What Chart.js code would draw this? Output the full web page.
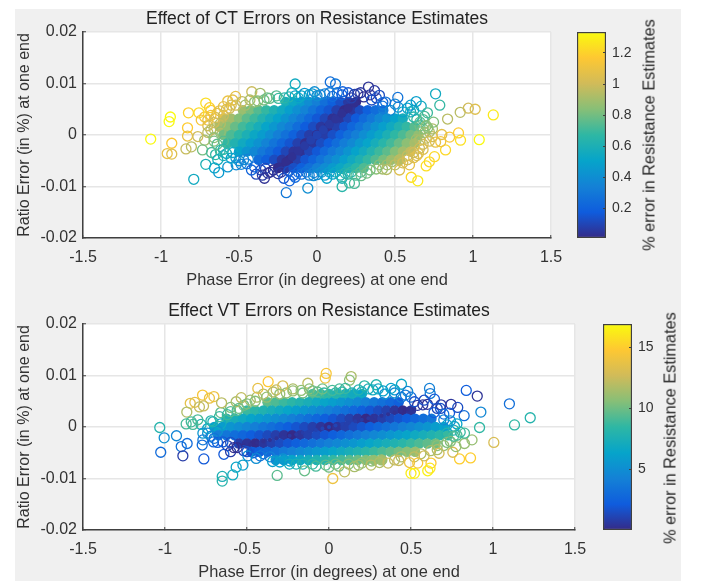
<!DOCTYPE html>
<html>
<head>
<meta charset="utf-8">
<script src="https://cdn.jsdelivr.net/npm/chart.js@4/dist/chart.umd.min.js"></script>
<style>
    html, body { margin: 0; padding: 0; background: #fff; }
    #page { position: relative; width: 702px; height: 581px; overflow: hidden; }
    #panel { position: absolute; left: 15px; top: 9px; width: 666px; height: 572px; background: #f0f0f0; }
    canvas { position: absolute; }
    .cbLabel {
        position: absolute; white-space: nowrap; color: #262626;
        font: 16.3px "Liberation Sans", Arial, sans-serif;
        transform: translate(-50%, -50%) rotate(-90deg);
    }
</style>
</head>
<body>
<div id="page">
    <div id="panel"></div>
    <canvas id="ctChart" width="604" height="283" style="left:15px;top:9px"></canvas>
    <canvas id="ctBar" width="70" height="226" style="left:577px;top:22px"></canvas>
    <canvas id="vtChart" width="628" height="283" style="left:15px;top:301px"></canvas>
    <canvas id="vtBar" width="70" height="226" style="left:603px;top:314px"></canvas>
    <div class="cbLabel" style="left:649px;top:135px">% error in Resistance Estimates</div>
    <div class="cbLabel" style="left:670px;top:428px">% error in Resistance Estimates</div>
</div>
<script>
const xTicks = [-1.5, -1, -0.5, 0, 0.5, 1, 1.5];
const yTicks = [-0.02, -0.01, 0, 0.01, 0.02];
const ctBarTicks = [0.2, 0.4, 0.6, 0.8, 1, 1.2];
const vtBarTicks = [5, 10, 15];
const ctRange = [0.008, 1.335];
const vtRange = [0.02, 16.9];
const parula = ['#352a87', '#0f5cdd', '#1481d6', '#06a4ca', '#2eb7a4', '#87bf77', '#d1bb59', '#fec832', '#f9fb0e'];

// outer rings, CT panel
const ctRimX = [-1.066,-.94,-.948,-.931,-.96,-.931,-.84,-.805,-.824,-.83,
    -.83,-.764,-.757,-.713,-.689,-.742,-.70,-.625,-.572,-.522,
    -.54,-.418,-.364,-.304,-.247,-.14,-.14,-.08,-.016,.085,
    .119,.165,.24,.262,.33,.369,.40,.422,.518,.76,
    .787,.60,.636,.668,.708,.689,.747,.837,.918,.97,
    1.014,1.13,1.04,.907,.92,.85,.80,.824,.793,.753,
    .72,.70,.604,.646,.64,.593,.529,.446,.283,.24,
    .208,.161,.161,.063,-.022,-.059,.636,.657,.689,.71,
    -.734,-.676,-.713,-.79,-.636,-.657,-.63,-.572,-.518,-.486,
    -.39,-.337,-.35,-.315,-.213,-.176,-.14,-.197,-.6,-.55,
    -.48,-.43,-.38,-.32,-.18,-.12,-.05,0,.05,.1,
    .16,.22,.3,.35,.42,.47,.55,.6,.62,.66,
    .7,-.6,-.55,-.5,-.45,-.42,-.3,-.25,-.15,-.1,
    -.05,0,.05,.1,.15,.2,.25,.32,.38,.42,
    .5,.55,.58,.62,.68,.72,-.68,-.66,-.68,-.66,
    -.64,-.6];
const ctRimY = [-.0008,.0035,.0026,-.0016,-.0036,-.0037,-.0027,-.0023,.0043,.0014,
    -.0002,-.0003,.0043,.0062,.0053,.0029,.0029,.0047,.0066,.0075,
    .0068,.0084,.0081,.0071,.0071,.0099,.0076,.0081,.0084,.0103,
    .0099,.0084,.0079,.008,.0093,.0086,.0077,.0063,.0073,.008,
    .0058,.0058,.0065,.0056,.0043,.0036,.0025,.0031,.0044,.0052,
    .005,.0039,-.0009,.0004,-.001,-.0004,.0001,-.0029,-.0013,-.0042,
    -.0052,-.006,-.0082,-.0089,-.004,-.0058,-.0068,-.0067,-.0079,-.0094,
    -.0093,-.01,-.0084,-.0084,-.0079,-.0103,-.0009,-.0026,.0005,.0014,
    -.0029,-.0034,-.0057,-.0086,-.0048,-.0064,-.0073,-.0062,-.0058,-.0057,
    -.0076,-.0084,-.0078,-.0074,-.0084,-.0089,-.0082,-.0112,.0055,.0058,
    .0065,.0068,.0066,.0072,.0074,.0072,.0078,.0076,.008,.0075,
    .0078,.0072,.0074,.0068,.0056,.0048,.0045,.0045,.0035,.0025,
    .0018,-.004,-.0045,-.005,-.0056,-.0068,-.0072,-.0075,-.0078,-.0076,
    -.0078,-.0077,-.0078,-.0076,-.0078,-.0076,-.0078,-.0074,-.0066,-.0066,
    -.0058,-.0054,-.0048,-.0034,-.0028,-.0012,.0038,.0024,.001,-.0005,
    -.0018,-.0028];
const ctRimV = [1.33,1.33,1.33,1.16,1.09,1.05,.98,.95,1.2,1.18,
    1.09,1,1.23,1.24,1.19,1.14,1.08,1.07,1.1,1.08,
    1.07,.99,.9,.77,.69,.55,.5,.45,.4,.25,
    .3,.2,.08,.06,.04,.05,.12,.22,.28,.55,
    .68,.45,.48,.55,.7,.72,.82,.95,.95,1,
    1.05,1.28,1.33,1.18,1.25,1.15,1.07,1.22,1.12,1.22,
    1.22,1.24,1.22,1.28,1.05,1.08,1.05,.94,.78,.72,
    .72,.65,.6,.5,.38,.4,.9,1,.88,.85,
    .8,.72,.6,.55,.58,.52,.46,.44,.38,.35,
    .1,.03,.06,.05,.14,.2,.23,.3,1.08,1.03,
    .97,.92,.84,.79,.62,.53,.47,.39,.34,.25,
    .19,.08,.02,.12,.27,.38,.5,.57,.65,.75,
    .84,.59,.5,.41,.31,.21,.03,.05,.2,.26,
    .33,.39,.47,.52,.6,.66,.73,.8,.84,.9,
    .96,1.01,1.02,1,1.05,1.02,1.1,1,.95,.85,
    .76,.65];

// rings crowding the edge of the CT cloud
const ctEdgeX = [-.72,-.68,-.65,-.7,-.64,-.6,-.58,-.62,-.66,-.7,
    -.62,-.72,-.66,-.6,-.62,-.65,-.58,-.54,-.52,-.47,
    -.44,-.4,-.36,-.33,-.28,-.23,-.18,-.12,-.07,-.02,
    .03,.08,.12,.18,.22,.28,.34,.4,.45,.48,
    .53,.58,.62,.65,.68,.66,.7,.74,.76,.72,
    .74,.68,.66,.68,.64,.62,.58,.52,.5,.44,
    .38,.34,.28,.2,.13,.08,.02,-.03,-.1,-.16,
    -.21,-.26,-.34,-.4,-.46,-.52,-.56];
const ctEdgeY = [.0035,.0048,.0034,.0018,.0042,.0038,.005,.0022,.0012,.0005,
    .0006,-.001,-.0012,-.0012,-.003,-.0038,-.0036,-.0034,-.0044,-.0048,
    -.0047,-.0062,-.0068,-.0065,-.0068,-.0072,-.007,-.0072,-.0072,-.0073,
    -.0072,-.0072,-.0072,-.0074,-.0072,-.0072,-.0068,-.0058,-.0058,-.0052,
    -.0048,-.004,-.0044,-.0036,-.0018,-.001,-.0006,-.0003,-.0014,.0006,
    .0012,.0012,.0018,.003,.003,.0048,.0052,.0054,.006,.0064,
    .0072,.0078,.0082,.0082,.0082,.0082,.0078,.008,.0076,.0082,
    .0072,.0076,.0068,.0064,.0058,.0058,.0052];
const ctEdgeV = [1.14,1.15,1.04,1.02,1.07,.99,1.03,.94,.94,.96,
    .86,.9,.82,.74,.67,.67,.59,.54,.47,.38,
    .34,.21,.13,.11,.02,.06,.12,.21,.28,.35,
    .41,.47,.53,.62,.66,.74,.8,.83,.9,.9,
    .95,.98,1.05,1.05,1,.93,.96,1,1.08,.93,
    .92,.84,.79,.75,.7,.58,.5,.41,.36,.26,
    .14,.05,.05,.15,.25,.31,.37,.45,.52,.63,
    .65,.74,.8,.86,.91,.99,1.01];

// dense middle of the CT cloud, one line per row
const ctCoreX = [-.2,-.15,-.1,-.05,0,.05,.1,.15,.2,.25,
    -.475,-.425,-.375,-.325,-.275,-.225,-.175,-.125,-.075,-.025,.025,.075,.125,.175,.225,.275,.325,.375,.425,
    -.6,-.55,-.5,-.45,-.4,-.35,-.3,-.25,-.2,-.15,-.1,-.05,0,.05,.1,.15,.2,.25,.3,.35,.4,.45,.5,.55,
    -.625,-.575,-.525,-.475,-.425,-.375,-.325,-.275,-.225,-.175,-.125,-.075,-.025,.025,.075,.125,.175,.225,.275,.325,.375,.425,.475,.525,.575,.625,
    -.6,-.55,-.5,-.45,-.4,-.35,-.3,-.25,-.2,-.15,-.1,-.05,0,.05,.1,.15,.2,.25,.3,.35,.4,.45,.5,.55,.6,.65,
    -.575,-.525,-.475,-.425,-.375,-.325,-.275,-.225,-.175,-.125,-.075,-.025,.025,.075,.125,.175,.225,.275,.325,.375,.425,.475,.525,.575,.625,
    -.5,-.45,-.4,-.35,-.3,-.25,-.2,-.15,-.1,-.05,0,.05,.1,.15,.2,.25,.3,.35,.4,.45,.5,.55,.6,
    -.375,-.325,-.275,-.225,-.175,-.125,-.075,-.025,.025,.075,.125,.175,.225,.275,.325,.375,.425,.475,.525,
    -.25,-.2,-.15,-.1,-.05,0,.05,.1,.15,.2,.25,.3];
const ctCoreY = [.0064,.0064,.0064,.0064,.0064,.0064,.0064,.0064,.0064,.0064,
    .0048,.0048,.0048,.0048,.0048,.0048,.0048,.0048,.0048,.0048,.0048,.0048,.0048,.0048,.0048,.0048,.0048,.0048,.0048,
    .0032,.0032,.0032,.0032,.0032,.0032,.0032,.0032,.0032,.0032,.0032,.0032,.0032,.0032,.0032,.0032,.0032,.0032,.0032,.0032,.0032,.0032,.0032,.0032,
    .0016,.0016,.0016,.0016,.0016,.0016,.0016,.0016,.0016,.0016,.0016,.0016,.0016,.0016,.0016,.0016,.0016,.0016,.0016,.0016,.0016,.0016,.0016,.0016,.0016,.0016,
    0,0,0,0,0,0,0,0,0,0,0,0,0,0,0,0,0,0,0,0,0,0,0,0,0,0,
    -.0016,-.0016,-.0016,-.0016,-.0016,-.0016,-.0016,-.0016,-.0016,-.0016,-.0016,-.0016,-.0016,-.0016,-.0016,-.0016,-.0016,-.0016,-.0016,-.0016,-.0016,-.0016,-.0016,-.0016,-.0016,
    -.0032,-.0032,-.0032,-.0032,-.0032,-.0032,-.0032,-.0032,-.0032,-.0032,-.0032,-.0032,-.0032,-.0032,-.0032,-.0032,-.0032,-.0032,-.0032,-.0032,-.0032,-.0032,-.0032,
    -.0048,-.0048,-.0048,-.0048,-.0048,-.0048,-.0048,-.0048,-.0048,-.0048,-.0048,-.0048,-.0048,-.0048,-.0048,-.0048,-.0048,-.0048,-.0048,
    -.0064,-.0064,-.0064,-.0064,-.0064,-.0064,-.0064,-.0064,-.0064,-.0064,-.0064,-.0064];
const ctCoreV = [.59,.53,.46,.39,.33,.26,.19,.13,.06,.01,
    .88,.81,.74,.68,.61,.55,.48,.41,.35,.28,.21,.15,.08,.01,.05,.12,.19,.25,.32,
    .96,.9,.83,.76,.7,.63,.56,.5,.43,.36,.3,.23,.16,.1,.03,.04,.1,.17,.24,.3,.37,.43,.5,.57,
    .91,.85,.78,.71,.65,.58,.51,.45,.38,.32,.25,.18,.12,.05,.02,.08,.15,.22,.28,.35,.42,.48,.55,.62,.68,.75,
    .8,.73,.67,.6,.53,.47,.4,.33,.27,.2,.13,.07,.01,.07,.13,.2,.27,.33,.4,.47,.53,.6,.67,.73,.8,.86,
    .68,.62,.55,.48,.42,.35,.28,.22,.15,.08,.02,.05,.12,.18,.25,.32,.38,.45,.51,.58,.65,.71,.78,.85,.91,
    .5,.43,.37,.3,.24,.17,.1,.04,.03,.1,.16,.23,.3,.36,.43,.5,.56,.63,.7,.76,.83,.9,.96,
    .25,.19,.12,.05,.01,.08,.15,.21,.28,.35,.41,.48,.55,.61,.68,.74,.81,.88,.94,
    .01,.06,.13,.19,.26,.33,.39,.46,.53,.59,.66,.73];
const ctRidgeX = [-.24,-.2,-.16,-.12,-.08,-.04,0,.04,.08,.12,.16,.2,.24];
const ctRidgeY = [-.0062,-.0052,-.0042,-.0031,-.0021,-.001,0,.001,.0021,.0031,.0042,.0052,.0062];
const ctRidgeV = [.02,.02,.03,.04,.06,.08,.09,.08,.06,.04,.03,.02,.02];

// outer rings, VT panel
const vtRimX = [-1.032,-1.005,-.93,-.901,-.865,-1.026,-.891,-.763,-.641,-.60,
    -.771,-.702,-.729,-.846,-.818,-.79,-.765,-.867,-.655,-.871,
    -.84,-.80,-.83,-.769,-.769,-.773,-.704,-.647,-.708,-.668,
    -.566,-.535,-.434,-.371,-.322,-.282,-.22,-.129,-.17,-.099,
    -.023,-.017,-.495,-.525,-.566,-.587,-.651,-.651,-.316,-.444,
    -.344,-.241,-.149,.135,.125,.216,.288,.267,.064,.442,
    .378,.48,.466,.613,.617,.643,.521,.837,.904,1.10,
    1.227,1.131,.926,.824,.918,.785,.744,.683,.735,.572,
    .872,1.005,.863,.796,.755,.671,.774,.826,.622,.602,
    .616,.521,.50,.541,.491,.425,.308,.256,.155,.095,
    .023,.765,.826,-.6,-.55,-.5,-.45,-.38,-.3,-.04,
    .02,.1,.18,.33,.4,.58,.66,.7,.74,.78,
    -.74,-.7,-.6,-.56,-.5,-.42,-.3,-.2,-.08,0,
    .06,.18,.36,.58,.66,.72,.76,.8];
const vtRimY = [-.0001,-.0021,-.0017,-.0038,-.0032,-.0049,-.0056,-.0062,-.0053,-.0048,
    .0062,.0059,.0056,.0046,.0048,.0039,.0041,.0029,.0047,.0006,
    .001,.0014,.0005,-.0012,-.0025,-.0035,-.0029,-.0029,.001,.002,
    .0049,.0057,.0075,.0088,.0072,.008,.007,.0085,.0071,.007,
    .0095,.0104,-.0056,-.0074,-.0078,-.0093,-.0096,-.0105,-.0094,-.0061,
    -.0067,-.0072,-.0085,.0098,.0091,.008,.0082,.0072,.0074,.0083,
    .0075,.0069,.0062,.0075,.0065,.0054,.0049,.0071,.006,.0045,
    .0018,.0004,.0029,.0022,-.0001,.0038,.0044,.0043,.0027,.0043,
    -.0025,-.003,-.006,-.0062,-.0049,-.0051,-.0038,-.0032,-.007,-.0085,
    -.008,-.009,-.009,-.007,-.0069,-.0065,-.0069,-.0074,-.0077,-.0087,
    -.01,.0001,-.0012,.003,.0036,.0045,.005,.0058,.0064,.0074,
    .0071,.0075,.0072,.007,.0066,.0052,.0036,.0025,.0012,.0006,
    -.0012,-.0022,-.003,-.004,-.0048,-.0056,-.0068,-.0072,-.0076,-.0078,
    -.0076,-.0074,-.007,-.0056,-.0044,-.003,-.0018,-.001];
const vtRimV = [8,5,4.5,3.3,3,3,.8,2,2,.8,
    14.5,14,13.9,13.6,13.6,12.2,12.3,11.7,12,9,
    9,9.1,9,5.5,3.8,3,2.6,2,7.8,8.7,
    11.6,12.2,13.7,14.8,12.3,13,11,12.2,10.8,10,
    14,14.5,5,6,6.5,7,7.5,8,9.5,5,
    6,7.2,9.8,11.6,10.7,8.4,8,6.9,9,6.7,
    6.4,4.6,3.8,4.2,3.9,2,1.7,2.2,.4,3.2,
    8,8.5,4.6,3.2,8.5,1.5,.5,.6,2,.5,
    11,13,15,15,13,12.8,11,11,14.8,16.5,
    16,16.5,16.3,14.5,14,12.5,11.7,12,11.5,12.2,
    14,7,9,9.4,9.8,10.4,10.6,11,11,10,
    9,8.8,7.9,6.1,4.9,1.5,1.3,3.1,5.2,6.4,
    5.2,3.5,1.6,.2,1.7,3.5,6.1,7.5,9,10.1,
    10.4,11.3,12.4,12.6,11.7,10.4,9.2,8.6];

// rings crowding the edge of the VT cloud
const vtEdgeX = [-.78,-.74,-.72,-.66,-.68,-.72,-.66,-.62,-.6,-.56,
    -.52,-.48,-.44,-.4,-.34,-.26,-.22,-.16,-.12,-.07,
    -.03,.04,.08,.14,.2,.24,.3,.34,.4,.44,
    .5,.54,.6,.64,.68,.7,.72,.76,.72,.78,
    .74,.7,.66,.62,.56,.52,.44,.4,.32,.26,
    .2,.12,.04,-.02,-.1,-.16,-.24,-.28,-.36,-.4,
    -.46,-.52,-.58,-.62,-.68];
const vtEdgeY = [.0005,-.0003,.0012,.0006,-.0008,-.0018,.0028,.0024,.0038,.0032,
    .0042,.0052,.0058,.0064,.0068,.0066,.0074,.0066,.0074,.0068,
    .0066,.0066,.0068,.0066,.0068,.0074,.0074,.0064,.0072,.0058,
    .0058,.0042,.0044,.0028,.0036,.0014,.0004,-.0006,-.0012,-.0016,
    -.0028,-.0036,-.0036,-.0046,-.0052,-.0058,-.0058,-.0064,-.0064,-.0066,
    -.007,-.0072,-.0072,-.0074,-.0072,-.0072,-.0066,-.0062,-.0058,-.0052,
    -.005,-.0046,-.004,-.0036,-.003];
const vtEdgeV = [7.8,6.4,8.1,6.8,5.2,4.2,9.6,8.7,10.4,9.2,
    10.1,11.2,11.6,12,12,10.9,11.6,10,10.7,9.5,
    8.6,8.2,8,7.3,7,7.4,6.9,5.2,5.7,3.5,
    3,.5,.3,2.2,1.6,4.5,6,7.7,8,9.2,
    10.4,11,10.7,11.6,11.8,12.2,11.6,12,11.2,10.9,
    10.9,10.4,9.8,9.5,8.5,7.9,6.4,5.5,4.3,3.1,
    2.3,1.3,.2,.9,2.3];

// dense middle of the VT cloud, one line per row
const vtCoreX = [-.1,-.05,0,.05,.1,.15,.2,
    -.375,-.325,-.275,-.225,-.175,-.125,-.075,-.025,.025,.075,.125,.175,.225,.275,.325,.375,.425,
    -.5,-.45,-.4,-.35,-.3,-.25,-.2,-.15,-.1,-.05,0,.05,.1,.15,.2,.25,.3,.35,.4,.45,.5,
    -.625,-.575,-.525,-.475,-.425,-.375,-.325,-.275,-.225,-.175,-.125,-.075,-.025,.025,.075,.125,.175,.225,.275,.325,.375,.425,.475,.525,.575,.625,
    -.7,-.65,-.6,-.55,-.5,-.45,-.4,-.35,-.3,-.25,-.2,-.15,-.1,-.05,0,.05,.1,.15,.2,.25,.3,.35,.4,.45,.5,.55,.6,.65,.7,
    -.675,-.625,-.575,-.525,-.475,-.425,-.375,-.325,-.275,-.225,-.175,-.125,-.075,-.025,.025,.075,.125,.175,.225,.275,.325,.375,.425,.475,.525,.575,.625,.675,.725,
    -.55,-.5,-.45,-.4,-.35,-.3,-.25,-.2,-.15,-.1,-.05,0,.05,.1,.15,.2,.25,.3,.35,.4,.45,.5,.55,.6,.65,
    -.475,-.425,-.375,-.325,-.275,-.225,-.175,-.125,-.075,-.025,.025,.075,.125,.175,.225,.275,.325,.375,.425,.475,.525,
    -.325,-.275,-.225,-.175,-.125,-.075,-.025,.025,.075,.125,.175,.225,.275,.325];
const vtCoreY = [.0064,.0064,.0064,.0064,.0064,.0064,.0064,
    .0048,.0048,.0048,.0048,.0048,.0048,.0048,.0048,.0048,.0048,.0048,.0048,.0048,.0048,.0048,.0048,.0048,
    .0032,.0032,.0032,.0032,.0032,.0032,.0032,.0032,.0032,.0032,.0032,.0032,.0032,.0032,.0032,.0032,.0032,.0032,.0032,.0032,.0032,
    .0016,.0016,.0016,.0016,.0016,.0016,.0016,.0016,.0016,.0016,.0016,.0016,.0016,.0016,.0016,.0016,.0016,.0016,.0016,.0016,.0016,.0016,.0016,.0016,.0016,.0016,
    0,0,0,0,0,0,0,0,0,0,0,0,0,0,0,0,0,0,0,0,0,0,0,0,0,0,0,0,0,
    -.0016,-.0016,-.0016,-.0016,-.0016,-.0016,-.0016,-.0016,-.0016,-.0016,-.0016,-.0016,-.0016,-.0016,-.0016,-.0016,-.0016,-.0016,-.0016,-.0016,-.0016,-.0016,-.0016,-.0016,-.0016,-.0016,-.0016,-.0016,-.0016,
    -.0032,-.0032,-.0032,-.0032,-.0032,-.0032,-.0032,-.0032,-.0032,-.0032,-.0032,-.0032,-.0032,-.0032,-.0032,-.0032,-.0032,-.0032,-.0032,-.0032,-.0032,-.0032,-.0032,-.0032,-.0032,
    -.0048,-.0048,-.0048,-.0048,-.0048,-.0048,-.0048,-.0048,-.0048,-.0048,-.0048,-.0048,-.0048,-.0048,-.0048,-.0048,-.0048,-.0048,-.0048,-.0048,-.0048,
    -.0064,-.0064,-.0064,-.0064,-.0064,-.0064,-.0064,-.0064,-.0064,-.0064,-.0064,-.0064,-.0064,-.0064];
const vtCoreV = [9.23,8.78,8.32,7.87,7.41,6.96,6.5,
    9.65,9.2,8.74,8.29,7.83,7.38,6.92,6.47,6.01,5.56,5.1,4.65,4.19,3.74,3.28,2.83,2.37,
    8.71,8.26,7.8,7.35,6.89,6.44,5.98,5.53,5.07,4.62,4.16,3.71,3.25,2.8,2.34,1.89,1.43,.98,.52,.07,.39,
    7.77,7.31,6.86,6.4,5.95,5.49,5.04,4.58,4.13,3.67,3.22,2.76,2.31,1.85,1.4,.94,.49,.03,.42,.88,1.33,1.79,2.24,2.7,3.15,3.61,
    6.37,5.92,5.46,5.01,4.55,4.1,3.64,3.19,2.73,2.28,1.82,1.37,.91,.46,.02,.46,.91,1.37,1.82,2.28,2.73,3.19,3.64,4.1,4.55,5.01,5.46,5.92,6.37,
    4.06,3.61,3.15,2.7,2.24,1.79,1.33,.88,.42,.03,.49,.94,1.4,1.85,2.31,2.76,3.22,3.67,4.13,4.58,5.04,5.49,5.95,6.4,6.86,7.31,7.77,8.22,8.68,
    .85,.39,.07,.52,.98,1.43,1.89,2.34,2.8,3.25,3.71,4.16,4.62,5.07,5.53,5.98,6.44,6.89,7.35,7.8,8.26,8.71,9.17,9.62,10.08,
    1.92,2.37,2.83,3.28,3.74,4.19,4.65,5.1,5.56,6.01,6.47,6.92,7.38,7.83,8.29,8.74,9.2,9.65,10.11,10.56,11.02,
    5.36,5.82,6.27,6.73,7.18,7.64,8.09,8.55,9,9.46,9.91,10.37,10.82,11.28];
const vtRidgeX = [-.52,-.48,-.44,-.4,-.36,-.32,-.28,-.24,-.2,-.16,-.12,-.08,-.04,0,.04,.08,.12,.16,.2,.24,.28,.32,.36,.4,.44,.48,.52];
const vtRidgeY = [-.0036,-.0034,-.0031,-.0028,-.0025,-.0022,-.002,-.0017,-.0014,-.0011,-.0008,-.0006,-.0003,0,.0003,.0006,.0008,.0011,.0014,.0017,.002,.0022,.0025,.0028,.0031,.0034,.0036];
const vtRidgeV = [.2,.2,.2,.3,.3,.4,.5,.6,.7,.8,.9,1,1.1,1.2,1.1,1,.9,.8,.7,.6,.5,.4,.3,.3,.2,.2,.2];

const fontFamily = '"Liberation Sans", Arial, sans-serif';
const textColor = '#333333';
const axisColor = '#404040';

function hexToRgb(hex) {
    return [1, 3, 5].map(i => parseInt(hex.slice(i, i + 2), 16));
}

function colorFor(value, range) {
    const t = Math.min(1, Math.max(0, (value - range[0]) / (range[1] - range[0]))) * (parula.length - 1);
    const i = Math.min(parula.length - 2, Math.floor(t));
    const a = hexToRgb(parula[i]);
    const b = hexToRgb(parula[i + 1]);
    const c = a.map((v, k) => Math.round(v + (b[k] - v) * (t - i)));
    return `rgb(${c[0]},${c[1]},${c[2]})`;
}

function pointSet(xs, ys, vs, range, radius, filled) {
    const colors = vs.map(v => colorFor(v, range));
    return {
        data: xs.map((x, i) => ({ x: x, y: ys[i] })),
        pointRadius: radius,
        borderWidth: filled ? 0 : 1.3,
        pointBorderColor: colors,
        pointBackgroundColor: filled ? colors : 'rgba(0,0,0,0)',
        showLine: false,
    };
}

const whitePlot = {
    id: 'whitePlot',
    beforeDraw(chart) {
        const a = chart.chartArea;
        chart.ctx.save();
        chart.ctx.fillStyle = '#ffffff';
        chart.ctx.fillRect(a.left, a.top, a.right - a.left, a.bottom - a.top);
        chart.ctx.restore();
    }
};

function axisOptions(ticks, titleText, size, tickPadding, titleSize) {
    return {
        min: ticks[0],
        max: ticks[ticks.length - 1],
        afterBuildTicks: scale => { scale.ticks = ticks.map(v => ({ value: v })); },
        afterFit: scale => {
            if (scale.isHorizontal()) scale.height = size;
            else scale.width = size;
        },
        border: { color: axisColor, width: 1.5 },
        grid: { color: '#e6e6e6', lineWidth: 1.5, tickColor: axisColor, tickLength: -3, tickWidth: 1 },
        ticks: {
            color: textColor,
            padding: tickPadding,
            autoSkip: false,
            maxRotation: 0,
            font: { family: fontFamily, size: 16 },
            callback: value => String(value),
        },
        title: {
            display: true,
            text: titleText,
            color: textColor,
            padding: { top: 0, bottom: 2 },
            font: { family: fontFamily, size: titleSize },
        },
    };
}

function drawScatter(id, titleText, datasets, rightPad) {
    new Chart(document.getElementById(id), {
        type: 'scatter',
        data: { datasets: datasets },
        plugins: [whitePlot],
        options: {
            responsive: false,
            animation: false,
            events: [],
            layout: { padding: { right: rightPad } },
            plugins: {
                legend: { display: false },
                tooltip: { enabled: false },
                title: {
                    display: true,
                    fullSize: false,
                    text: titleText,
                    color: '#222222',
                    padding: { top: 0, bottom: 2 },
                    font: { family: fontFamily, size: 17.5, weight: 'normal' },
                },
            },
            scales: {
                x: axisOptions(xTicks, 'Phase Error (in degrees) at one end', 54, 13, 16.4),
                y: axisOptions(yTicks, 'Ratio Error (in %) at one end', 68, 9, 16),
            },
        },
    });
}

function drawColorbar(id, range, ticks) {
    new Chart(document.getElementById(id), {
        type: 'bar',
        data: {
            labels: [''],
            datasets: [{
                data: [range],
                barPercentage: 1,
                categoryPercentage: 1,
                borderColor: axisColor,
                borderWidth: 1.5,
                borderSkipped: false,
                backgroundColor: ctx => {
                    const a = ctx.chart.chartArea;
                    if (!a) return parula[0];
                    const g = ctx.chart.ctx.createLinearGradient(0, a.bottom, 0, a.top);
                    parula.forEach((c, i) => g.addColorStop(i / (parula.length - 1), c));
                    return g;
                },
            }],
        },
        options: {
            responsive: false,
            animation: false,
            events: [],
            layout: { padding: { top: 10, bottom: 10 } },
            plugins: { legend: { display: false }, tooltip: { enabled: false } },
            scales: {
                x: { display: false },
                y: {
                    position: 'right',
                    min: range[0],
                    max: range[1],
                    afterBuildTicks: scale => { scale.ticks = ticks.map(v => ({ value: v })); },
                    afterFit: scale => {
                        scale.width = 41;
                        scale.paddingTop = 0;
                        scale.paddingBottom = 0;
                    },
                    border: { display: false },
                    grid: { drawOnChartArea: false, tickColor: axisColor, tickLength: -3, tickWidth: 1, z: 1 },
                    ticks: {
                        color: textColor,
                        padding: 9,
                        font: { family: fontFamily, size: 14 },
                        callback: value => String(value),
                    },
                },
            },
        },
    });
}

// first dataset is painted on top
drawScatter('ctChart', 'Effect of CT Errors on Resistance Estimates', [
    pointSet(ctRimX, ctRimY, ctRimV, ctRange, 5, false),
    pointSet(ctEdgeX, ctEdgeY, ctEdgeV, ctRange, 5, false),
    pointSet(ctRidgeX, ctRidgeY, ctRidgeV, ctRange, 4.5, true),
    pointSet(ctCoreX, ctCoreY, ctCoreV, ctRange, 5.2, true),
], 68);
drawScatter('vtChart', 'Effect VT Errors on Resistance Estimates', [
    pointSet(vtRimX, vtRimY, vtRimV, vtRange, 5, false),
    pointSet(vtEdgeX, vtEdgeY, vtEdgeV, vtRange, 5, false),
    pointSet(vtRidgeX, vtRidgeY, vtRidgeV, vtRange, 2, true),
    pointSet(vtCoreX, vtCoreY, vtCoreV, vtRange, 5.2, true),
], 68);
drawColorbar('ctBar', ctRange, ctBarTicks);
drawColorbar('vtBar', vtRange, vtBarTicks);
</script>
</body>
</html>
